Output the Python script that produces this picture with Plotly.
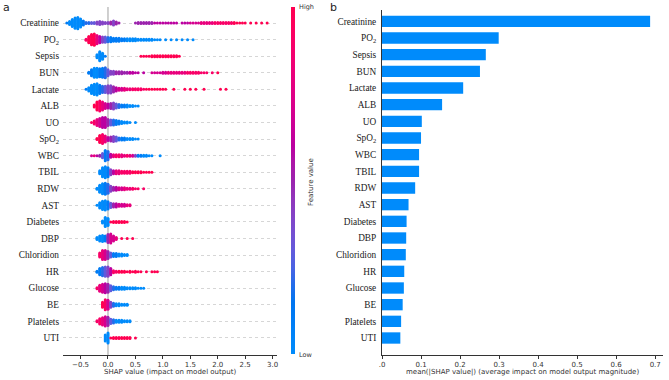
import math
import plotly.graph_objects as go

W, H = 669, 380

# ---------------- data ----------------
features = ["Creatinine", "PO<sub>2</sub>", "Sepsis", "BUN", "Lactate", "ALB", "UO",
            "SpO<sub>2</sub>", "WBC", "TBIL", "RDW", "AST", "Diabetes", "DBP",
            "Chloridion", "HR", "Glucose", "BE", "Platelets", "UTI"]

mean_abs_shap = [0.687, 0.299, 0.266, 0.251, 0.208, 0.154, 0.102, 0.100, 0.095, 0.095,
                 0.085, 0.068, 0.063, 0.062, 0.061, 0.057, 0.056, 0.053, 0.049, 0.047]

left_ticks = [-0.5, 0.0, 0.5, 1.0, 1.5, 2.0, 2.5, 3.0]
left_ticktext = ["\u22120.5", "0.0", "0.5", "1.0", "1.5", "2.0", "2.5", "3.0"]
right_ticks = [0.0, 0.1, 0.2, 0.3, 0.4, 0.5, 0.6, 0.7]
right_ticktext = [".0", "0.1", "0.2", "0.3", "0.4", "0.5", "0.6", "0.7"]

bin_step = 0.05  # SHAP value bin width used for the beeswarm columns

# beeswarm: per feature, first bin SHAP value, dots stacked per bin, feature-value colour (0 low .. 10 high)
creatinine_start = -0.75
creatinine_counts = [1, 4, 8, 11, 12, 9, 5, 2,
                     2, 2, 2, 3, 4, 3, 2, 2, 3, 5, 3, 1,
                     0, 0, 0, 0, 0,
                     1, 2, 2, 2, 2, 2, 2, 1, 1, 1, 1, 1, 1, 1, 1,
                     1, 0, 1, 1,
                     1, 1, 1, 1, 1, 2, 2, 2, 2, 2, 2, 2, 2, 2, 2, 2, 2, 2, 1, 1, 1, 1,
                     0, 1, 0, 1, 0, 1, 0, 1]
creatinine_colors = [1, 0, 0, 0, 0, 0, 1, 2,
                     2, 3, 3, 4, 4, 4, 4, 4, 5, 4, 5, 5,
                     5, 5, 5, 5, 5,
                     5, 5, 5, 5, 5, 5, 5, 6, 6, 6, 6, 6, 6, 6, 6,
                     6, 6, 6, 6,
                     6, 7, 7, 7, 7, 8, 8, 8, 8, 8, 9, 9, 9, 9, 9, 9, 9, 10, 10, 10, 10, 10,
                     10, 10, 10, 10, 10, 10, 10, 10]

po2_start = -0.40
po2_counts = [2, 7, 11, 12, 9, 7, 6, 6, 5, 5, 4, 4, 4, 3, 3, 3, 3, 3, 3, 2,
              2, 2, 2, 2, 2, 1, 1, 1, 0, 1, 0, 1, 0, 1, 0, 1, 0, 1, 0, 1]
po2_colors = [9, 10, 10, 10, 8, 6, 4, 3, 2, 1, 1, 1, 1, 1, 1, 0, 0, 0, 0, 0,
              0, 0, 0, 0, 0, 0, 0, 0, 0, 0, 0, 0, 0, 0, 0, 0, 0, 0, 0, 0]

sepsis_start = -0.20
sepsis_counts = [4, 10, 7, 1,
                 0, 0, 0, 0, 0, 0, 0, 0, 0, 0, 0, 0,
                 1, 1, 1,
                 1, 2, 2, 2, 2, 2, 2, 2, 2, 2, 2, 1]
sepsis_colors = [0, 0, 0, 1,
                 0, 0, 0, 0, 0, 0, 0, 0, 0, 0, 0, 0,
                 10, 10, 10,
                 10, 10, 10, 10, 10, 10, 10, 10, 10, 10, 10, 10]

bun_start = -0.35
bun_counts = [2, 7, 10, 10, 9, 10, 11, 7,
              4, 4, 3, 3, 3, 2, 2, 2, 2, 1, 1,
              0, 1, 0, 0, 1,
              1, 1, 1, 2, 2, 2, 2, 2, 2, 2, 2, 2, 2, 2, 2, 2, 2, 1, 1, 1,
              0, 1, 0, 1]
bun_colors = [1, 1, 0, 0, 1, 1, 2, 3,
              4, 4, 5, 5, 5, 5, 5, 6, 6, 6, 6,
              6, 6, 6, 6, 7,
              7, 7, 7, 7, 7, 8, 8, 8, 8, 8, 8, 8, 9, 9, 9, 9, 9, 9, 9, 9,
              9, 9, 9, 10]

lactate_start = -0.40
lactate_counts = [1, 4, 9, 11, 12, 9, 7, 7, 8, 8, 6, 4,
                  3, 3, 3, 2, 2, 2, 2, 2, 2,
                  1, 1, 1, 1, 1, 1, 1, 1, 1,
                  0, 0, 1, 0, 0, 0, 1,
                  0, 1, 0, 1, 0, 0, 1,
                  0, 0, 0, 0, 0, 1, 0, 1]
lactate_colors = [1, 0, 0, 0, 0, 1, 2, 3, 4, 4, 5, 6,
                  7, 7, 8, 8, 8, 9, 9, 9, 9,
                  9, 10, 10, 10, 10, 10, 10, 10, 10,
                  10, 10, 10, 10, 10, 10, 10,
                  10, 10, 10, 10, 10, 10, 10,
                  10, 10, 10, 10, 10, 10, 10, 10]

alb_start = -0.25
alb_counts = [3, 9, 11, 9, 6, 5, 6, 7, 5, 4, 3, 3, 3, 2, 2, 1, 1]
alb_colors = [10, 10, 9, 8, 7, 6, 5, 4, 3, 2, 1, 1, 0, 0, 0, 0, 0]

uo_start = -0.30
uo_counts = [1, 4, 7, 9, 11, 11, 7, 6, 6, 5, 4, 3, 2, 2, 1, 0, 1]
uo_colors = [9, 9, 8, 7, 6, 6, 5, 3, 2, 1, 1, 0, 0, 0, 0, 0, 0]

spo2_start = -0.20
spo2_counts = [2, 8, 10, 7, 4, 5, 6, 5, 3, 3, 3, 2, 2, 2, 1, 1]
spo2_colors = [10, 10, 9, 8, 6, 5, 4, 3, 2, 1, 1, 0, 0, 0, 0, 0]

wbc_start = -0.30
wbc_counts = [1, 1, 1, 2, 5, 11, 9, 4, 3, 3, 3, 3, 2, 2, 2, 2, 2, 2, 2, 2, 2, 1, 1, 0, 0, 1]
wbc_colors = [7, 8, 6, 5, 3, 1, 2, 6, 8, 9, 9, 8, 8, 9, 8, 7, 4, 1, 1, 0, 0, 0, 0, 0, 0, 0]

tbil_start = -0.15
tbil_counts = [4, 10, 12, 10, 6, 4, 4, 4, 3, 3, 3, 3, 2, 2, 2, 2, 1, 1, 1, 1]
tbil_colors = [0, 0, 0, 1, 4, 6, 8, 8, 9, 9, 9, 9, 10, 10, 10, 10, 10, 10, 10, 10]

rdw_start = -0.20
rdw_counts = [2, 8, 11, 12, 10, 6, 4, 4, 3, 3, 3, 2, 2, 2, 1, 1, 0, 1]
rdw_colors = [0, 0, 0, 1, 2, 4, 5, 6, 7, 7, 8, 8, 8, 9, 9, 9, 9, 9]

ast_start = -0.20
ast_counts = [1, 6, 9, 10, 8, 5, 4, 4, 3, 3, 3, 2, 2]
ast_colors = [0, 0, 0, 0, 1, 3, 5, 6, 7, 7, 7, 8, 8]

diabetes_start = -0.10
diabetes_counts = [3, 10, 8, 1, 2, 2, 2, 2, 2, 1]
diabetes_colors = [0, 0, 0, 10, 10, 10, 10, 10, 10, 10]

dbp_start = -0.20
dbp_counts = [3, 6, 7, 6, 9, 10, 6, 3, 0, 1, 0, 1, 0, 1]
dbp_colors = [0, 0, 0, 1, 5, 7, 7, 8, 10, 10, 10, 10, 10, 10]

chloridion_start = -0.15
chloridion_counts = [5, 10, 10, 8, 5, 4, 4, 3, 3, 2, 2]
chloridion_colors = [9, 8, 7, 5, 3, 1, 1, 0, 0, 0, 0]

hr_start = -0.20
hr_counts = [2, 7, 9, 10, 10, 7, 3, 2, 2, 2, 2, 1, 2, 1, 2, 1, 1, 0, 1, 0, 1, 1, 1]
hr_colors = [1, 1, 2, 3, 4, 6, 9, 9, 10, 10, 10, 10, 10, 10, 10, 10, 10, 10, 10, 10, 10, 10, 10]

glucose_start = -0.20
glucose_counts = [2, 7, 9, 10, 9, 6, 4, 3, 3, 3, 3, 2, 2, 2, 2, 1, 1, 1]
glucose_colors = [9, 8, 7, 6, 5, 3, 2, 1, 1, 0, 0, 0, 0, 0, 0, 0, 0, 0]

be_start = -0.10
be_counts = [6, 11, 10, 6, 4, 3, 3, 2, 2, 2]
be_colors = [10, 9, 7, 4, 2, 0, 0, 0, 0, 0]

platelets_start = -0.20
platelets_counts = [2, 6, 8, 10, 9, 5, 4, 3, 3, 3, 2, 2, 2]
platelets_colors = [9, 9, 8, 7, 5, 3, 2, 0, 0, 0, 0, 0, 0]

uti_start = -0.05
uti_counts = [7, 11, 1, 2, 2, 2, 2, 2, 2, 2, 0, 1]
uti_colors = [0, 0, 10, 10, 10, 10, 10, 10, 10, 10, 10, 10]

swarm = [
    (creatinine_start, creatinine_counts, creatinine_colors),
    (po2_start, po2_counts, po2_colors),
    (sepsis_start, sepsis_counts, sepsis_colors),
    (bun_start, bun_counts, bun_colors),
    (lactate_start, lactate_counts, lactate_colors),
    (alb_start, alb_counts, alb_colors),
    (uo_start, uo_counts, uo_colors),
    (spo2_start, spo2_counts, spo2_colors),
    (wbc_start, wbc_counts, wbc_colors),
    (tbil_start, tbil_counts, tbil_colors),
    (rdw_start, rdw_counts, rdw_colors),
    (ast_start, ast_counts, ast_colors),
    (diabetes_start, diabetes_counts, diabetes_colors),
    (dbp_start, dbp_counts, dbp_colors),
    (chloridion_start, chloridion_counts, chloridion_colors),
    (hr_start, hr_counts, hr_colors),
    (glucose_start, glucose_counts, glucose_colors),
    (be_start, be_counts, be_colors),
    (platelets_start, platelets_counts, platelets_colors),
    (uti_start, uti_counts, uti_colors),
]

# ---------------- SHAP red_blue colour scale (LCH interpolation) ----------------
def lch_to_hex(l, c, h):
    a = c * math.cos(h)
    b = c * math.sin(h)
    fy_ = (l + 16) / 116.0
    fx_ = fy_ + a / 500.0
    fz_ = fy_ - b / 200.0
    def finv(t):
        return t ** 3 if t > 6 / 29 else 3 * (6 / 29) ** 2 * (t - 4 / 29)
    X, Y, Z = 0.95047 * finv(fx_), finv(fy_), 1.08883 * finv(fz_)
    r = 3.2404542 * X - 1.5371385 * Y - 0.4985314 * Z
    g = -0.9692660 * X + 1.8760108 * Y + 0.0415560 * Z
    bb = 0.0556434 * X - 0.2040259 * Y + 1.0572252 * Z
    def gam(v):
        v = max(0.0, min(1.0, v))
        return 12.92 * v if v <= 0.0031308 else 1.055 * v ** (1 / 2.4) - 0.055
    return "#%02x%02x%02x" % tuple(int(round(gam(v) * 255)) for v in (r, g, bb))

blue_lch = (54.0, 70.0, 4.6588)
red_lch = (54.0, 90.0, 0.35470565 + 2 * math.pi)
l_mid = 40.0
colorscale = []
nstops = 21
for i in range(nstops):
    t = i / (nstops - 1)
    l = blue_lch[0] + (l_mid - blue_lch[0]) * (t / 0.5) if t <= 0.5 else l_mid + (red_lch[0] - l_mid) * ((t - 0.5) / 0.5)
    c = blue_lch[1] + (red_lch[1] - blue_lch[1]) * t
    h = blue_lch[2] + (red_lch[2] - blue_lch[2]) * t
    colorscale.append([t, lch_to_hex(l, c, h)])

# ---------------- geometry ----------------
n = len(features)
row_y = [n - 1 - i for i in range(n)]
dot_step = 0.061  # vertical stacking step (row units)

xs, ys, cs = [], [], []
for i, (start, counts, colors) in enumerate(swarm):
    for j, (cnt, col) in enumerate(zip(counts, colors)):
        xv = start + j * bin_step
        for k in range(cnt):
            xs.append(xv)
            ys.append(row_y[i] + (k - (cnt - 1) / 2) * dot_step)
            cs.append(col)

def fx(p):
    return p / W

def fy(p):
    return 1 - p / H

fig = go.Figure()
fig.add_trace(go.Scatter(
    x=xs, y=ys, mode="markers", xaxis="x", yaxis="y", showlegend=False, hoverinfo="skip",
    marker=dict(size=3.0, color=cs, cmin=0, cmax=10, colorscale=colorscale, line=dict(width=0),
                colorbar=dict(thickness=4, thicknessmode="pixels", len=347, lenmode="pixels",
                              x=fx(291), xanchor="left", y=fy(354), yanchor="bottom",
                              xpad=0, ypad=0, outlinewidth=0, showticklabels=False, ticks=""))
))

fig.add_trace(go.Bar(
    x=mean_abs_shap, y=row_y, orientation="h", xaxis="x2", yaxis="y2",
    marker=dict(color="#008bfb", line=dict(width=0)), width=0.68, showlegend=False, hoverinfo="skip"
))

tickfont = dict(family="DejaVu Sans", size=7, color="#333333")
labelfont = dict(family="Liberation Serif", size=9.3, color="#1a1a1a")

fig.update_layout(
    width=W, height=H, margin=dict(l=0, r=0, t=0, b=0), autosize=False,
    plot_bgcolor="white", paper_bgcolor="white",
    xaxis=dict(domain=[fx(63), fx(277)], range=[-0.82, 3.08], tickvals=left_ticks,
               ticktext=left_ticktext, showline=True, linecolor="#333333", linewidth=0.8,
               ticks="outside", ticklen=3, tickwidth=0.8, tickcolor="#333333",
               tickfont=tickfont, showgrid=False, zeroline=False, anchor="y", automargin=False),
    yaxis=dict(domain=[fy(355), fy(7)], range=[-1.03, 19.97], tickvals=row_y, ticktext=features,
               tickfont=labelfont, ticks="", showline=False, showgrid=True, gridcolor="#d6d6d6",
               griddash="dot", gridwidth=0.6, zeroline=False, anchor="x", ticklabelstandoff=3,
               automargin=False),
    xaxis2=dict(domain=[fx(382), fx(663)], range=[0, 0.72], tickvals=right_ticks,
                ticktext=right_ticktext, showline=True, linecolor="#333333", linewidth=0.8,
                ticks="outside", ticklen=3, tickwidth=0.8, tickcolor="#333333",
                tickfont=tickfont, showgrid=False, zeroline=False, anchor="y2", automargin=False),
    yaxis2=dict(domain=[fy(355), fy(10)], range=[-1.02, 19.68], tickvals=row_y, ticktext=features,
                tickfont=labelfont, ticks="", showline=True, linecolor="#333333", linewidth=0.8,
                showgrid=False, zeroline=False, anchor="x2", ticklabelstandoff=3, automargin=False),
)

fig.add_shape(type="line", xref="x", yref="y", x0=0, x1=0, y0=-1.03, y1=19.97,
              line=dict(color="#a0a0a0", width=1), layer="below")

annos = [
    dict(text="a", x=fx(6), y=fy(8), font=dict(family="DejaVu Sans", size=11, color="#222")),
    dict(text="b", x=fx(333), y=fy(8), font=dict(family="DejaVu Sans", size=11, color="#222")),
    dict(text="SHAP value (impact on model output)", x=fx(170), y=fy(372),
         font=dict(family="DejaVu Sans", size=7, color="#333")),
    dict(text="mean(|SHAP value|) (average impact on model output magnitude)", x=fx(522), y=fy(372),
         font=dict(family="DejaVu Sans", size=7, color="#333")),
    dict(text="High", x=fx(297), y=fy(7), xanchor="left",
         font=dict(family="DejaVu Sans", size=6.5, color="#333")),
    dict(text="Low", x=fx(297), y=fy(355), xanchor="left",
         font=dict(family="DejaVu Sans", size=6.5, color="#333")),
    dict(text="Feature value", x=fx(311), y=fy(182), textangle=-90,
         font=dict(family="DejaVu Sans", size=7, color="#333")),
]
for a in annos:
    a.setdefault("xanchor", "center")
    fig.add_annotation(xref="paper", yref="paper", showarrow=False, yanchor="middle", **a)

fig.write_html("out.html", config={"displayModeBar": False},
               post_script="document.body.style.margin='0';document.body.style.padding='0';")
